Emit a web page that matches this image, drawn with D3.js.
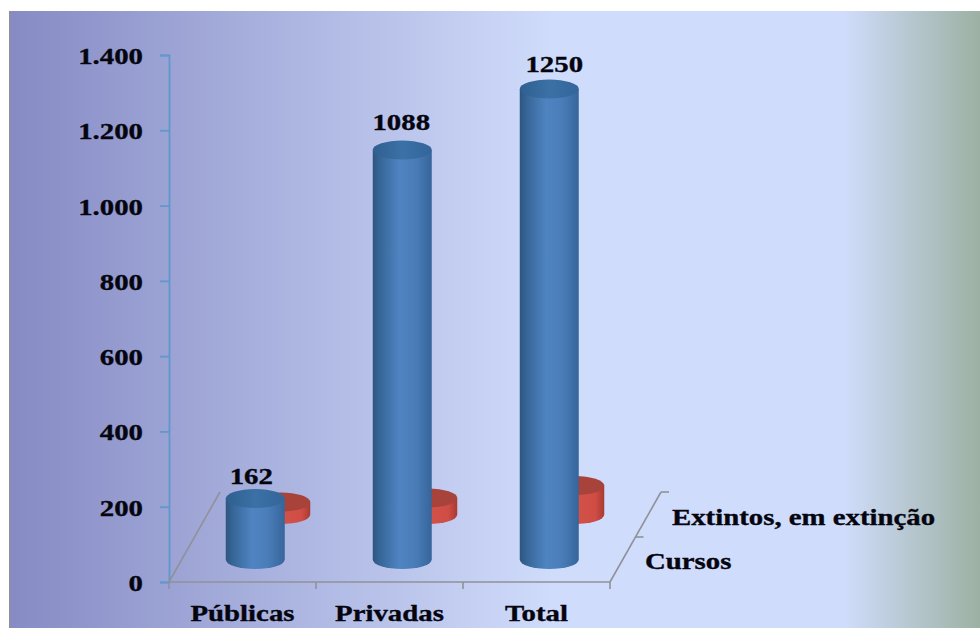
<!DOCTYPE html>
<html lang="pt">
<head>
<meta charset="utf-8">
<script src="https://cdn.jsdelivr.net/npm/d3@7"></script>
<style>
html,body{margin:0;padding:0;background:#fff}
svg{display:block}
text{font-family:"Liberation Serif","Times New Roman",serif;font-weight:bold;fill:#05050f;stroke:#05050f;stroke-width:0.35px}
</style>
</head>
<body>
<svg id="chart" width="980" height="628"></svg>
<script>
// Course counts by institution type
const categories = ["Públicas", "Privadas", "Total"];
const seriesNames = ["Cursos", "Extintos, em extinção"];
const cursos = [162, 1088, 1250];
const extintos = [33, 44, 77];
const yTicks = [0, 200, 400, 600, 800, 1000, 1200, 1400];

const svg = d3.select("#chart");
const defs = svg.append("defs");

// Panel background, a horizontal wash from violet to pale blue to grey-green
const bg = defs.append("linearGradient").attr("id", "panel")
  .attr("gradientUnits", "userSpaceOnUse").attr("x1", 10).attr("x2", 980).attr("y1", 0).attr("y2", 0);
[[0, "#868bc4"], [0.56, "#d0dcfb"], [0.86, "#d0dcfb"], [1, "#9cb1a3"]]
  .forEach(([o, c]) => bg.append("stop").attr("offset", o).attr("stop-color", c));
svg.append("rect").attr("x", 9).attr("y", 11).attr("width", 971).attr("height", 617).attr("fill", "url(#panel)");
svg.append("rect").attr("x", 9).attr("y", 11).attr("width", 1.5).attr("height", 617).attr("fill", "#8f8f9a");

function sideGradient(id, stops) {
  const g = defs.append("linearGradient").attr("id", id).attr("x1", 0).attr("x2", 1).attr("y1", 0).attr("y2", 0);
  stops.forEach(([o, c]) => g.append("stop").attr("offset", o).attr("stop-color", c));
}
sideGradient("blueSide", [[0, "#2c5680"], [0.14, "#38689a"], [0.45, "#4f84c2"], [0.72, "#4a7db8"], [1, "#36659a"]]);
sideGradient("blueTop", [[0, "#2f5f8f"], [0.5, "#3b71a6"], [1, "#33669a"]]);
sideGradient("redSide", [[0, "#a8362e"], [0.5, "#d2524a"], [0.85, "#cf4d44"], [1, "#a83a32"]]);

// Plot frame in the oblique projection: one series step moves up and to the right
const frame = { left: 169, right: 610, top: 55, bottom: 582, stepX: 25.5, stepY: 45, bodyRx: 29.5, bodyRy: 9.5 };
const fontSize = 24, stretch = 1.2;

const y = d3.scaleLinear().domain([0, 1400]).range([frame.bottom, frame.top]);
const x = d3.scaleBand().domain(categories).range([frame.left, frame.right]);
const depth = d3.scaleBand().domain(seriesNames).range([0, 2]);

const ptBR = d3.formatLocale({ decimal: ",", thousands: ".", grouping: [3], currency: ["R$", ""] });

// Stretched serif labels: scale about the anchor point
function label(sel, px, py, anchor) {
  return sel.attr("text-anchor", anchor).attr("font-size", fontSize)
    .attr("transform", `translate(${px},${py}) scale(${stretch},1)`);
}

// Value axis; tick labels are placed relative to their tick group
const yAxis = svg.append("g").attr("transform", `translate(${frame.left},0)`)
  .call(d3.axisLeft(y).tickValues(yTicks).tickSize(9).tickPadding(0).tickFormat(ptBR.format(",d")));
yAxis.select(".domain").attr("stroke", "#6497cc").attr("stroke-width", 2);
yAxis.selectAll(".tick line").attr("stroke", "#6497cc").attr("stroke-width", 1.8);
yAxis.selectAll(".tick text").each(function () {
  label(d3.select(this).attr("x", null).attr("y", null).attr("dy", null), -26, 8.5, "end");
});

// Floor lines, category and depth axes
const axisGrey = "#8f9299";
const floor = svg.append("g").attr("fill", "none").attr("stroke", axisGrey).attr("stroke-width", 1.6);
const backRise = { dx: frame.stepX * 2, dy: frame.stepY * 2 };
floor.append("line").attr("x1", frame.left).attr("x2", frame.right).attr("y1", frame.bottom).attr("y2", frame.bottom);
[...categories.map(c => x(c)), frame.right].forEach(px => {
  floor.append("line").attr("x1", px).attr("x2", px).attr("y1", frame.bottom).attr("y2", frame.bottom + 7);
});
floor.append("line").attr("x1", frame.left).attr("y1", frame.bottom)
  .attr("x2", frame.left + backRise.dx).attr("y2", frame.bottom - backRise.dy);
floor.append("line").attr("x1", frame.right).attr("y1", frame.bottom)
  .attr("x2", frame.right + backRise.dx).attr("y2", frame.bottom - backRise.dy);
[1, 2].forEach(i => {
  const px = frame.right + frame.stepX * i, py = frame.bottom - frame.stepY * i;
  floor.append("line").attr("x1", px).attr("x2", px + 8).attr("y1", py).attr("y2", py);
});

// A cylinder standing on the floor for one series and one category
function drawCylinder(g, cat, value, seriesName, side, top) {
  const d = depth(seriesName) + depth.bandwidth() / 2;
  const cx = x(cat) + x.bandwidth() / 2 + frame.stepX * d;
  const shift = frame.stepY * d;
  const base = y(0) - shift, head = y(value) - shift;
  const { bodyRx: rx, bodyRy: ry } = frame;
  g.append("path")
    .attr("d", `M${cx - rx},${head}L${cx - rx},${base}A${rx},${ry} 0 0 0 ${cx + rx},${base}L${cx + rx},${head}Z`)
    .attr("fill", side);
  g.append("ellipse").attr("cx", cx).attr("cy", head).attr("rx", rx).attr("ry", ry).attr("fill", top);
  return { cx, head };
}

// Rear series first so the front cylinders overlap it
const rear = svg.append("g");
categories.forEach((c, i) => drawCylinder(rear, c, extintos[i], seriesNames[1], "url(#redSide)", "#a8433b"));

const front = svg.append("g");
const labelNudgeX = [-4, -1, 5], labelGap = [15, 19.5, 16.5];
categories.forEach((c, i) => {
  const { cx, head } = drawCylinder(front, c, cursos[i], seriesNames[0], "url(#blueSide)", "url(#blueTop)");
  label(svg.append("text").text(cursos[i]), cx + labelNudgeX[i], head - labelGap[i], "middle");
});

// Category names under the floor
categories.forEach(c => {
  label(svg.append("text").text(c), x(c) + x.bandwidth() / 2, 621, "middle");
});

// Series names beside the depth axis
seriesNames.forEach((name, i) => {
  label(svg.append("text").text(name), [645, 672][i], [569, 525][i], "start");
});
</script>
</body>
</html>
